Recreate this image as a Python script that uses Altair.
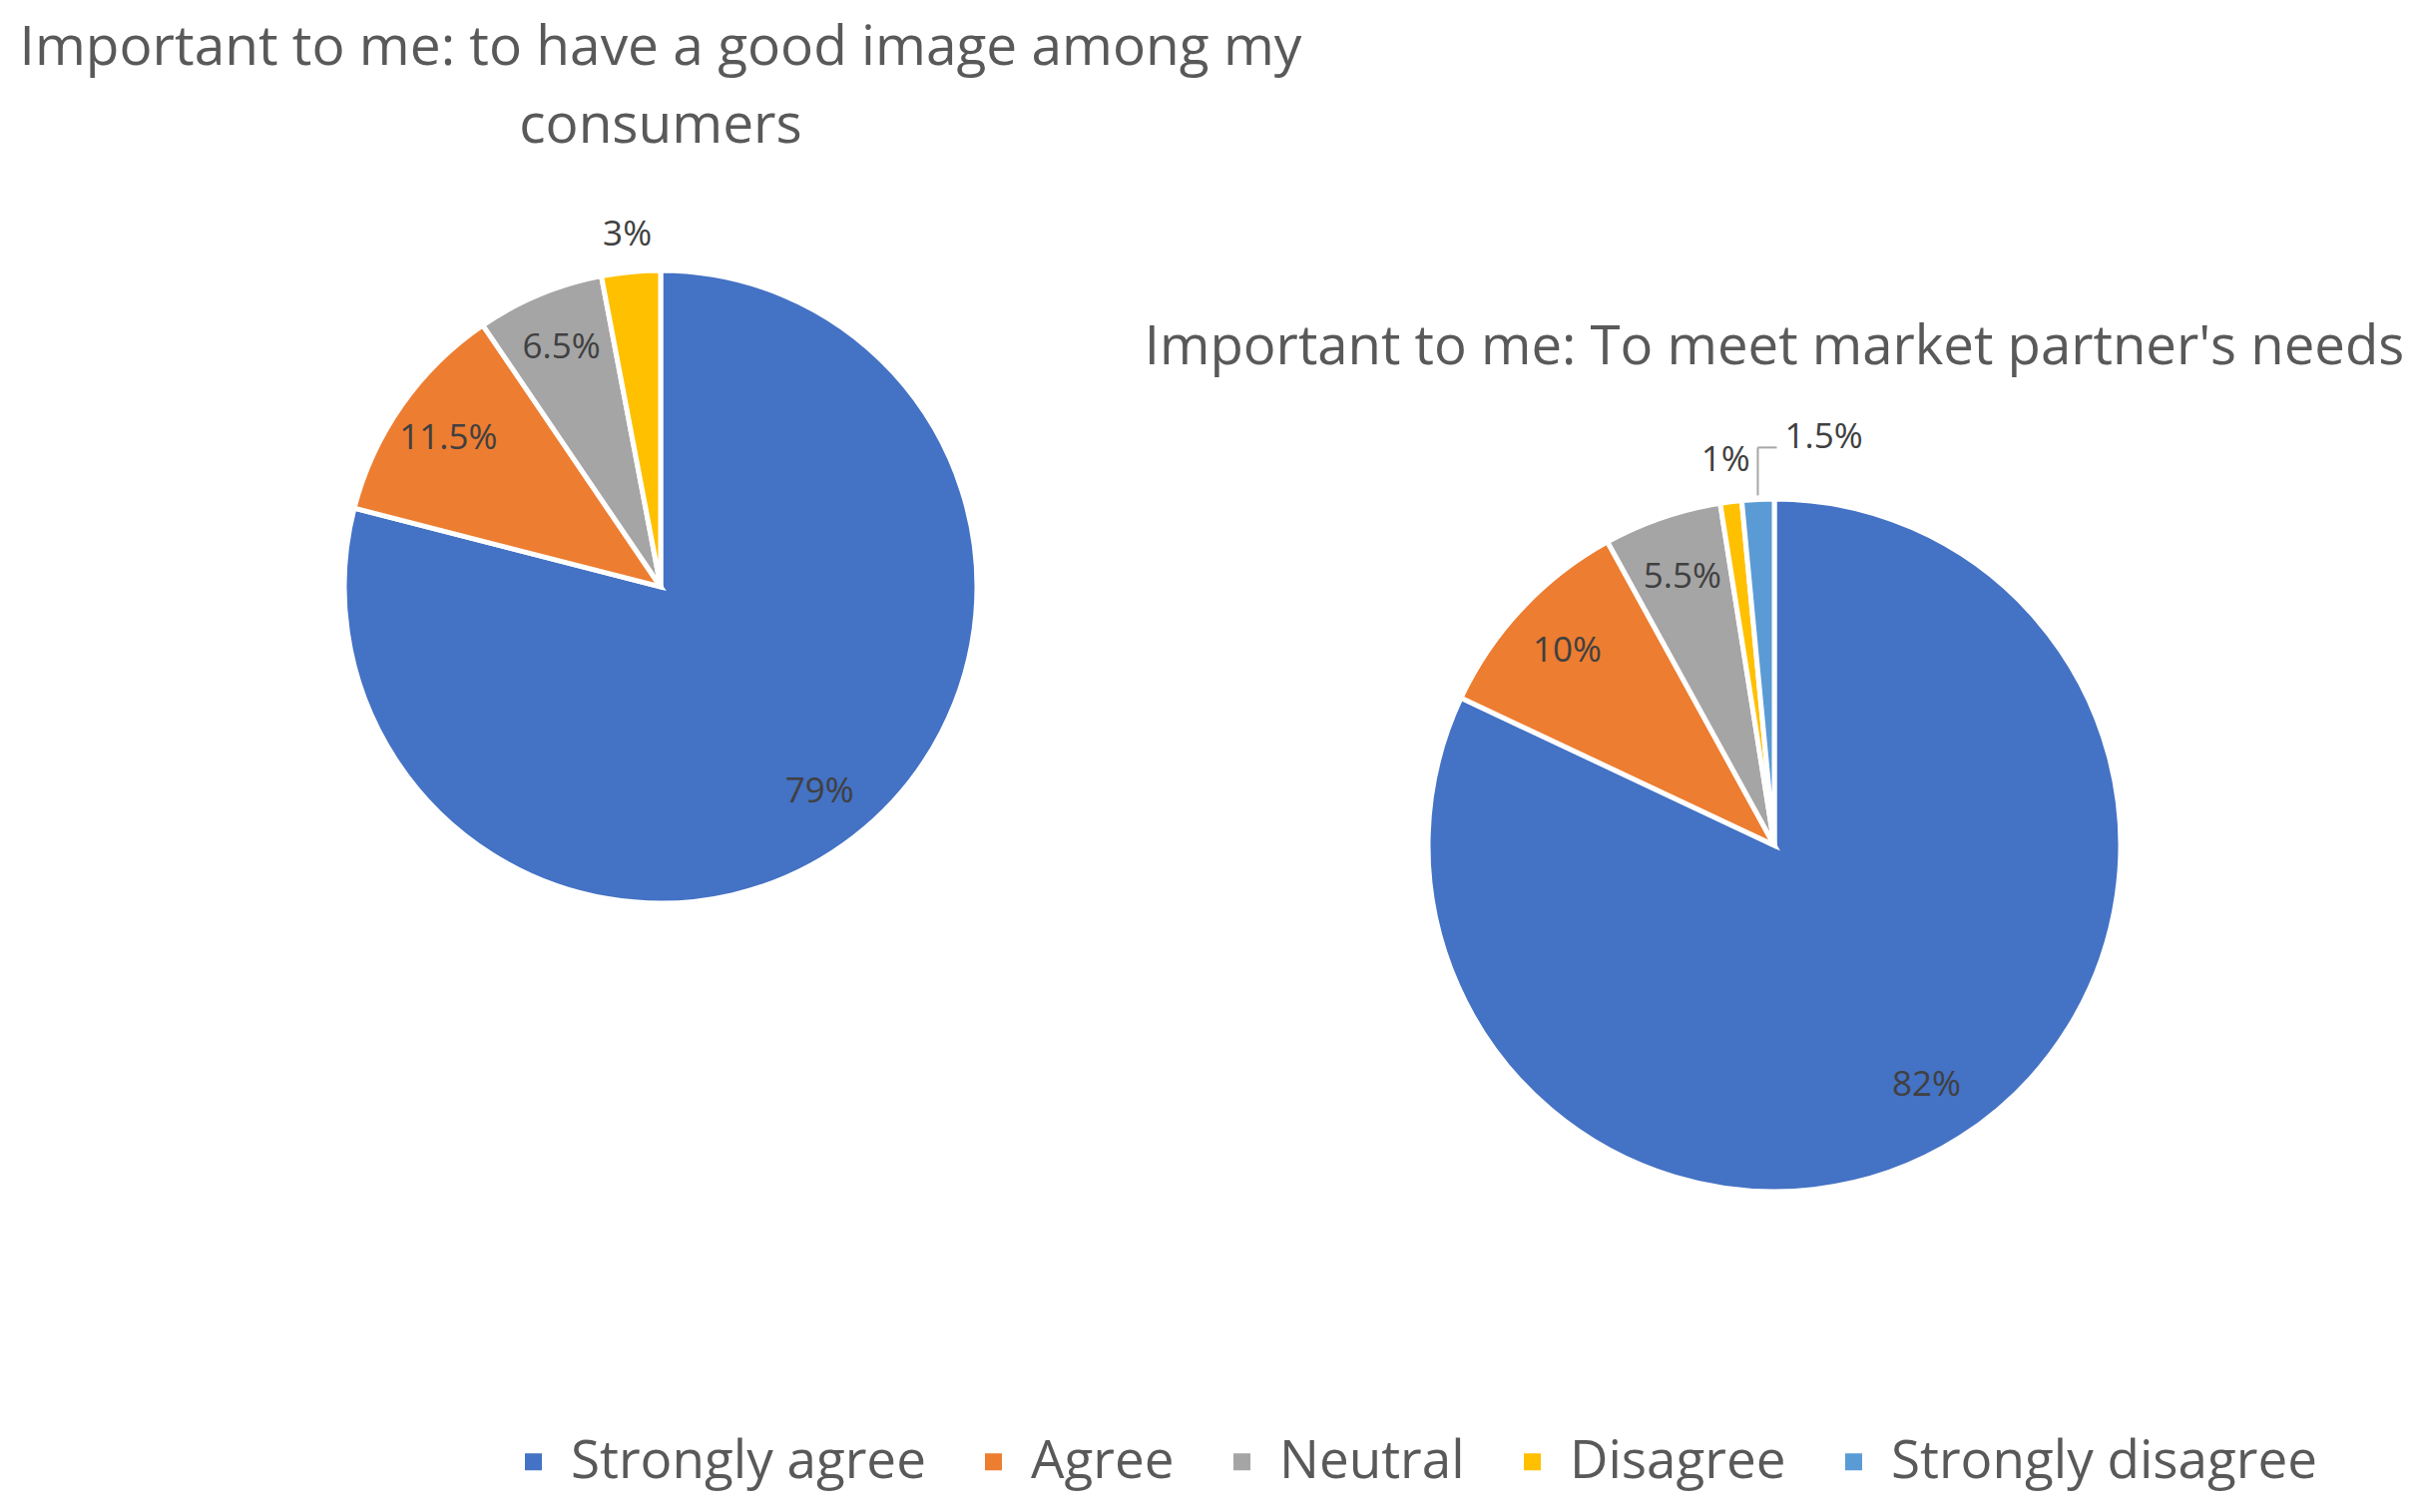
import altair as alt
import pandas as pd

categories = ["Strongly agree", "Agree", "Neutral", "Disagree", "Strongly disagree"]
colors = ["#4472C4", "#ED7D31", "#A5A5A5", "#FFC000", "#5B9BD5"]

title_left = "Important to me: to have a good image among my\nconsumers"
title_right = "Important to me: To meet market partner's needs"

left_values = [79, 11.5, 6.5, 3]
right_values = [82, 10, 5.5, 1, 1.5]

FONT = "Open Sans"
TITLE_SIZE = 55
LEGEND_SIZE = 53
LABEL_SIZE = 35
TEXT_COLOR = "#595959"
LABEL_COLOR = "#404040"


def make_df(values):
    return pd.DataFrame({
        "category": categories[:len(values)],
        "order": list(range(len(values))),
        "value": values,
        "label": [f"{v:g}%" for v in values],
    })


df_left = make_df(left_values)
df_right = make_df(right_values)

color_scale = alt.Scale(domain=categories, range=colors)
legend = alt.Legend(
    title=None, orient="none", legendX=500, legendY=1430, direction="horizontal",
    symbolType="square", symbolSize=290, symbolStrokeWidth=0, padding=0,
    labelFont=FONT, labelFontSize=LEGEND_SIZE, labelColor=TEXT_COLOR, labelLimit=0,
    columnPadding=41, labelOffset=11,
)


def pie(df, cx, cy, r, show_legend, leader_category=None):
    base = alt.Chart(df).encode(
        theta=alt.Theta("value:Q", stack=True),
        order=alt.Order("order:Q", sort="ascending"),
    )
    arcs = base.mark_arc(outerRadius=r, stroke="white", strokeWidth=5).encode(
        color=alt.Color("category:N", scale=color_scale,
                        legend=legend if show_legend else None),
        x=alt.value(cx), y=alt.value(cy),
    )
    skip = f"datum.category == '{leader_category}'" if leader_category else "false"
    inside = base.transform_calculate(
        txt="datum.value >= 5 ? datum.label : ''",
    ).mark_text(font=FONT, fontSize=LABEL_SIZE, color=LABEL_COLOR, radius=0.82 * r,
                align="center", baseline="middle").encode(
        text="txt:N", x=alt.value(cx), y=alt.value(cy),
    )
    outside = base.transform_calculate(
        txt=f"(datum.value < 5 && !({skip})) ? datum.label : ''",
    ).mark_text(font=FONT, fontSize=LABEL_SIZE, color=LABEL_COLOR, radius=1.12 * r,
                align="center", baseline="middle").encode(
        text="txt:N", x=alt.value(cx), y=alt.value(cy),
    )
    layers = [arcs, inside, outside]
    if leader_category:
        lead = alt.Chart(df).transform_joinaggregate(
            total="sum(value)"
        ).transform_window(
            cum="sum(value)", sort=[alt.SortField("order")]
        ).transform_calculate(
            mid="2*PI*(datum.cum - datum.value/2)/datum.total",
        ).transform_calculate(
            x0=f"{cx} + {r + 4}*sin(datum.mid)",
            y0=f"{cy} - {r + 4}*cos(datum.mid)",
        ).transform_calculate(
            y1="datum.y0 - 48",
            x1="datum.x0 + 19",
        ).transform_filter(f"datum.category == '{leader_category}'")
        vline = lead.mark_rule(color="#A6A6A6", strokeWidth=2).encode(
            x=alt.X("x0:Q", scale=None), y=alt.Y("y0:Q", scale=None), y2="y1:Q")
        hline = lead.mark_rule(color="#A6A6A6", strokeWidth=2).encode(
            x=alt.X("x0:Q", scale=None), x2="x1:Q", y=alt.Y("y1:Q", scale=None))
        ltext = lead.mark_text(font=FONT, fontSize=LABEL_SIZE, color=LABEL_COLOR,
                               align="left", baseline="middle", dx=8, dy=-10).encode(
            x=alt.X("x1:Q", scale=None), y=alt.Y("y1:Q", scale=None), text="label:N")
        layers += [vline, hline, ltext]
    return layers


def title(text, x, y, size):
    return alt.Chart(pd.DataFrame({"t": [text]})).mark_text(
        font=FONT, fontSize=size, color=TEXT_COLOR, align="center",
        baseline="top", lineBreak="\n", lineHeight=78,
    ).encode(text="t:N", x=alt.value(x), y=alt.value(y))


layers = []
layers += pie(df_left, 654, 580, 317, True)
layers += pie(df_right, 1770, 839, 347, False, leader_category="Strongly disagree")
layers += [title(title_left, 654, 14, TITLE_SIZE), title(title_right, 1770, 314, 54.5)]

chart = alt.layer(*layers).properties(
    width=2409, height=1499,
    autosize=alt.AutoSizeParams(type="none"),
    padding=0,
).configure_view(stroke=None)

chart.save("out.html", embed_options={"renderer": "svg", "actions": False})
